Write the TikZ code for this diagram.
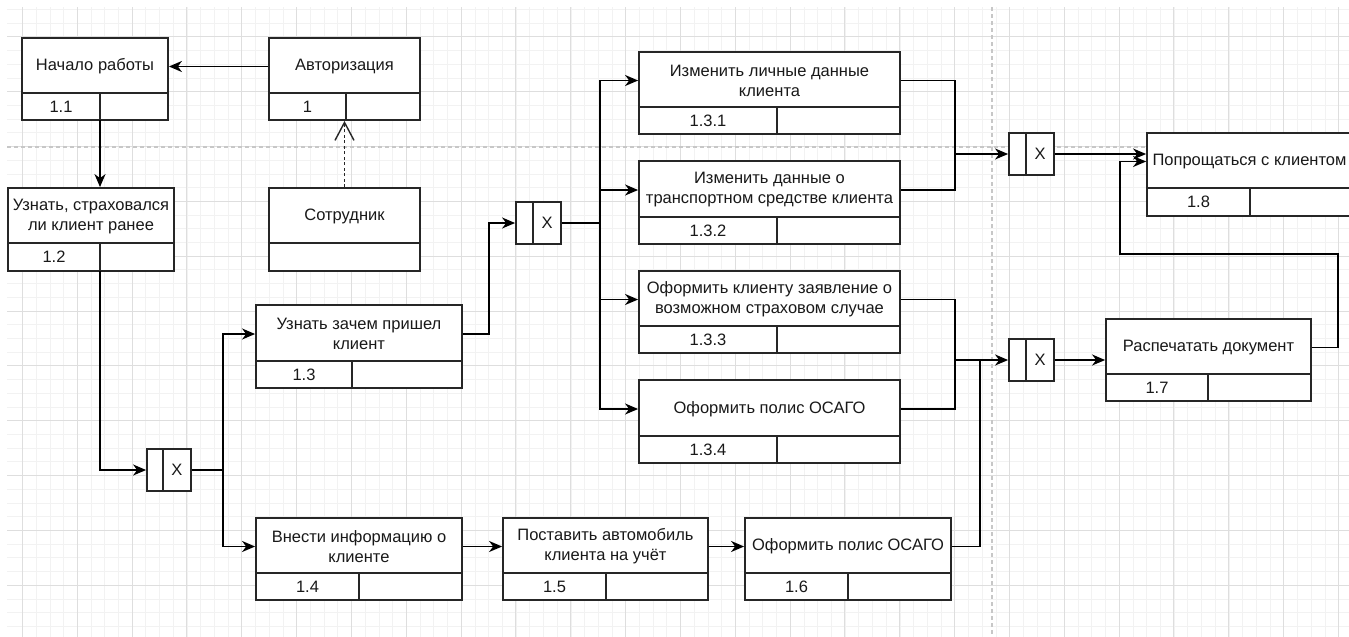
\documentclass[tikz,border=0pt]{standalone}
\usepackage{fontspec}
\setmainfont{Liberation Sans}
\usetikzlibrary{arrows.meta,fit,calc}
\newcommand\procbox[9]{%
  \node[pbox,fit={(#2,#3) (#4,#5)}] (#1) {};
  \draw[pline] (#2,#6) -- (#4,#6) (#7,#6) -- (#7,#5);
  \coordinate (#1-v) at (#7,#5);
  \node[ptext] (#1-t) at ({(#2+#4)/2},{(#3+#6)/2+1}) {#8};
  \node[ptext] (#1-n) at ({(#2+#7)/2},{(#6+#5)/2}) {#9};
}
\newcommand\gateway[6]{%
  \node[pbox,fit={(#2,#3) (#4,#5)}] (#1) {};
  \draw[pline] (#6,#3) -- (#6,#5);
  \node[ptext] (#1-x) at ({(#6+#4)/2},{(#3+#5)/2}) {X};
}
\begin{document}
\begin{tikzpicture}[x=1pt,y=-1pt,
  pbox/.style={draw=black!85,fill=white,line width=1.8pt,inner sep=0pt},
  pline/.style={draw=black!85,line width=1.8pt},
  ptext/.style={align=center,inner sep=0pt,text=black!90,font=\fontsize{16.5}{20}\selectfont},
  conn/.style={draw=black,line width=1.7pt},
  arr/.style={conn,-{Stealth[length=13pt,width=11pt,inset=4pt]}},
  dep/.style={draw=black!85,line width=1.7pt,dash pattern=on 3pt off 2.5pt,-{Straight Barb[length=18pt,width=19pt,line width=1.4pt]}},
  gminor/.style={draw=black!5,line width=0.8pt},
  gmajor/.style={draw=black!13,line width=1pt},
  pagebreak/.style={draw=black!22,line width=1.2pt,dash pattern=on 4pt off 3pt}
]
\useasboundingbox[fill=white] (0,0) rectangle (1349,637);
% grid
\foreach \k in {0,...,98} {\draw[gminor] ({22.5+13.71*\k},7) -- ({22.5+13.71*\k},637);}
\foreach \k in {0,...,45} {\draw[gminor] (7,{9.4+13.71*\k}) -- (1349,{9.4+13.71*\k});}
\foreach \k in {0,...,24} {\draw[gmajor] ({22.5+54.83*\k},7) -- ({22.5+54.83*\k},637);}
\foreach \k in {0,...,10} {\draw[gmajor] (7,{36.8+54.85*\k}) -- (1349,{36.8+54.85*\k});}
\draw[pagebreak] (7,147) -- (1349,147);
\draw[pagebreak] (992,7) -- (992,637);

% boxes
\procbox{n11}{22}{38}{168}{120}{93}{100}{Начало работы}{1.1}
\procbox{auth}{269}{38}{420}{120}{93}{346}{Авторизация}{1}
\node[pbox,fit={(269,188) (420,271)}] (emp) {};
\draw[pline] (269,243) -- (420,243);
\node[ptext] (emp-t) at (344.5,216.5) {Сотрудник};
\procbox{n12}{8}{188}{174}{271}{243}{100}{Узнать, страховался\\ли клиент ранее}{1.2}
\procbox{n13}{256}{305}{462}{388}{361}{352}{Узнать зачем пришел\\клиент}{1.3}
\procbox{n14}{256}{518}{462}{600}{573}{359}{Внести информацию о\\клиенте}{1.4}
\procbox{n15}{503}{518}{708}{600}{573}{606}{Поставить автомобиль\\клиента на учёт}{1.5}
\procbox{n16}{745}{518}{951}{600}{573}{848}{Оформить полис ОСАГО}{1.6}
\procbox{n131}{639}{52}{900}{134}{107}{777}{Изменить личные данные\\клиента}{1.3.1}
\procbox{n132}{639}{161}{900}{244}{217}{777}{Изменить данные о\\транспортном средстве клиента}{1.3.2}
\procbox{n133}{639}{271}{900}{353}{326}{777}{Оформить клиенту заявление о\\возможном страховом случае}{1.3.3}
\procbox{n134}{639}{380}{900}{463}{436}{777}{Оформить полис ОСАГО}{1.3.4}
\procbox{n17}{1106}{319}{1311}{401}{374}{1208}{Распечатать документ}{1.7}
\procbox{n18}{1147}{133}{1352}{216}{188}{1250}{Попрощаться с клиентом}{1.8}

% gateways
\gateway{g1}{147}{449}{191}{491}{163}
\gateway{g2}{516}{202}{561}{244}{533}
\gateway{g3}{1009}{133}{1054}{175}{1026}
\gateway{g4}{1009}{339}{1054}{381}{1026}

% junction coordinates
\coordinate (j1) at (223,470);
\coordinate (j2) at (489,223);
\coordinate (j3) at (600,223);
\coordinate (j4) at (955,154);
\coordinate (j5) at (955,360);
\coordinate (j6) at (980,360);
\coordinate (j7) at (1338,254);
\coordinate (j8) at (1120,254);

% connectors
\draw[arr] (auth.west |- auth-t) -- (n11.east |- auth-t);
\draw[dep] (emp.north) -- (auth.south);
\draw[arr] (n11-v) -- (n11-v |- n12.north);
\draw[arr] (n12-v) -- (n12-v |- g1.west) -- (g1.west);
\draw[conn] (g1.east) -- (j1);
\draw[arr] (j1) |- (n13.west |- n13-t);
\draw[arr] (j1) |- (n14.west |- n14-t);
\draw[arr] (n14.east |- n14-t) -- (n15.west |- n14-t);
\draw[arr] (n15.east |- n15-t) -- (n16.west |- n15-t);
\draw[arr] (n13.east |- n13-t) -- (j2 |- n13-t) -- (j2) -- (g2.west);
\draw[conn] (g2.east) -- (j3);
\draw[arr] (j3) |- (n131.west |- n131-t);
\draw[arr] (j3) |- (n132.west |- n132-t);
\draw[arr] (j3) |- (n133.west |- n133-t);
\draw[arr] (j3) |- (n134.west |- n134-t);
\draw[conn] (n131.east |- n131-t) -- (j4 |- n131-t) -- (j4 |- n132-t) -- (n132.east |- n132-t);
\draw[arr] (j4) -- (g3.west);
\draw[arr] (g3.east) -- (g3.east -| n18.west);
\draw[conn] (n133.east |- n133-t) -- (j5 |- n133-t) -- (j5 |- n134-t) -- (n134.east |- n134-t);
\draw[arr] (j5) -- (g4.west);
\draw[conn] (n16.east |- n16-t) -| (j6);
\draw[arr] (g4.east) -- (g4.east -| n17.west);
\draw[arr] (n17.east |- n17-t) -| (j7) -- (j8) |- (n18.west |- n18-t);
\end{tikzpicture}
\end{document}
